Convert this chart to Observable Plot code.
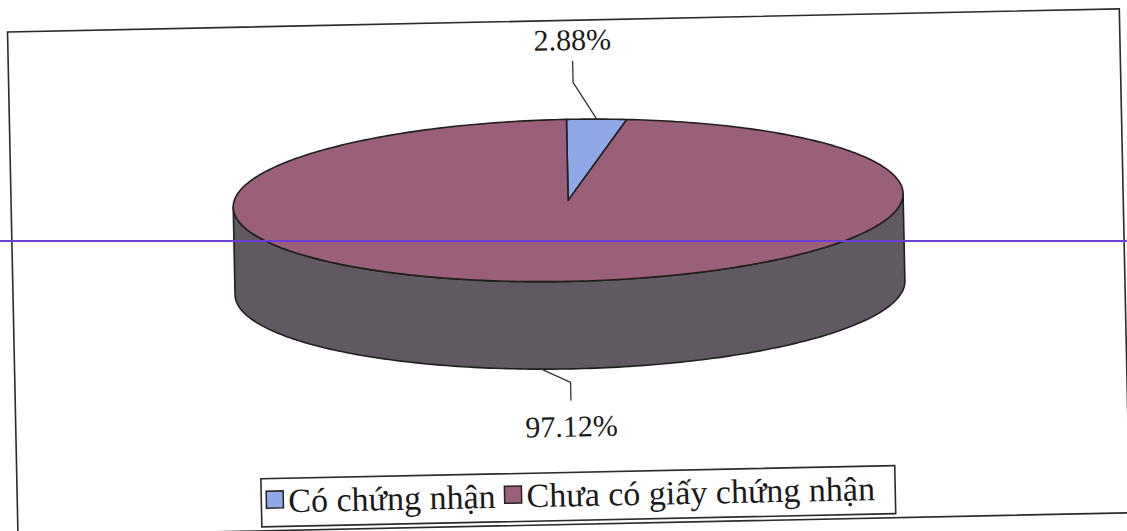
<!DOCTYPE html>
<html lang="vi">
<head>
<meta charset="utf-8">
<script src="https://cdn.jsdelivr.net/npm/d3@7"></script>
<script src="https://cdn.jsdelivr.net/npm/@observablehq/plot@0.6"></script>
<style>
  html, body { margin: 0; padding: 0; background: #fff; overflow: hidden; }
  #page { position: relative; width: 1127px; height: 531px; overflow: hidden; }
  #sheet {
    position: absolute; left: 0; top: 0; width: 1127px; height: 531px;
    transform: rotate(-1.19deg); transform-origin: 563.5px 265.5px;
  }
  #marker {
    position: absolute; left: 0; top: 239.5px; width: 1127px; height: 2px;
    background: #6c3fd2;
  }
</style>
</head>
<body>
<div id="page">
  <div id="sheet"></div>
  <div id="marker"></div>
</div>
<script>
// Share of households by land-use certificate status
const categories = ["Có chứng nhận", "Chưa có giấy chứng nhận"];
const shares = [2.88, 97.12];
const shareLabels = ["2.88%", "97.12%"];

// Styling
const palette = ["#8fa8e8", "#9b6079"];
const sideColor = "#615962";
const edge = "#1f1f1f";
const DEPTH = 1.08;            // disc thickness, in units of the vertical radius
const FONT = "'Liberation Serif', 'Times New Roman', serif";
const KEY_FONT_SIZE = 34;

// Page layout (pixels)
const W = 1127, H = 531;
const M = {left: 12, top: 20, right: 3, bottom: 7};
const keyBox = {left: 256, right: 890, top: 472, bottom: 520};

// Slice angles, clockwise from 12 o'clock
const total = d3.sum(shares);
let acc = 0;
const slices = shares.map((v, i) => {
  const a0 = (acc / total) * 2 * Math.PI;
  acc += v;
  const a1 = (acc / total) * 2 * Math.PI;
  return {i, category: categories[i], value: v, label: shareLabels[i], a0, a1, mid: (a0 + a1) / 2};
});

// Point on the rim of the disc: z = 0 top face, z = 1 bottom edge
const rim = (a, z = 0) => ({x: Math.sin(a), y: -Math.cos(a) + z * DEPTH});
function arc(a0, a1, z) {
  const n = Math.max(2, Math.ceil(Math.abs(a1 - a0) / (Math.PI / 180)));
  return d3.range(n + 1).map(k => rim(a0 + (a1 - a0) * k / n, z));
}

// Front wall of the disc (visible between 3 o'clock and 9 o'clock)
const sides = slices.map(s => {
  const lo = Math.max(s.a0, Math.PI / 2), hi = Math.min(s.a1, 3 * Math.PI / 2);
  if (hi <= lo) return null;
  const pts = [...arc(lo, hi, 0), ...arc(hi, lo, 1)];
  pts.push(pts[0]);
  return pts;
}).filter(Boolean);

// Top faces
const tops = slices.map(s => ({s, pts: [{x: 0, y: 0}, ...arc(s.a0, s.a1, 0), {x: 0, y: 0}]}));

// Label placement: back slices label above the disc, front slices below it
const labelAt = slices.map(s => {
  const front = Math.cos(s.mid) < 0;
  const start = rim(s.mid, front ? 1 : 0);
  const lx = front ? -0.004 : 0.022;
  const elbowY = front ? start.y + 0.17 : start.y - 0.46;
  const endY = front ? start.y + 0.39 : start.y - 0.72;
  const textY = front ? start.y + 0.84 : start.y - 0.86;
  return {
    label: s.label,
    leader: [start, {x: lx, y: elbowY}, {x: lx, y: endY}],
    x: lx, y: textY
  };
});

// Legend entries laid out left to right, widths measured in the legend font
const ctx = document.createElement("canvas").getContext("2d");
ctx.font = `${KEY_FONT_SIZE}px ${FONT}`;
const CHIP = 17, CHIP_GAP = 5, ITEM_GAP = 9;
const chipCenterY = 493, keyBaseline = 506;
let cursor = 261;
const keyItems = categories.map((c, i) => {
  const chipX = cursor + CHIP / 2;
  const textX = cursor + CHIP + CHIP_GAP;
  cursor = textX + ctx.measureText(c).width + ITEM_GAP;
  return {c, i, chipX, textX};
});
// offsets from the bottom-left corner of the frame
const ox = px => px - M.left;
const oy = py => py - (H - M.bottom);

const marks = [
  Plot.frame({stroke: "#2a2a2a", strokeWidth: 1.6}),
  ...sides.map(pts => Plot.line(pts, {x: "x", y: "y", fill: sideColor, stroke: edge, strokeWidth: 1.6})),
  ...tops.map(t => Plot.line(t.pts, {x: "x", y: "y", fill: palette[t.s.i], stroke: edge, strokeWidth: 1.6, strokeLinejoin: "round"})),
  ...labelAt.map(l => Plot.line(l.leader, {x: "x", y: "y", stroke: "#333", strokeWidth: 1.3})),
  Plot.text(labelAt, {
    x: "x", y: "y", text: "label", textAnchor: "middle", lineAnchor: "bottom",
    fontSize: 30, fontFamily: FONT, fill: "#1a1a1a"
  }),
  // legend box
  Plot.frame({
    fill: "white", stroke: "#2a2a2a", strokeWidth: 1.6,
    insetLeft: keyBox.left - M.left, insetRight: (W - M.right) - keyBox.right,
    insetTop: keyBox.top - M.top, insetBottom: (H - M.bottom) - keyBox.bottom
  }),
  ...keyItems.map(k => Plot.dot([k.c], {
    frameAnchor: "bottom-left", dx: ox(k.chipX), dy: oy(chipCenterY),
    symbol: "square", r: CHIP / Math.sqrt(Math.PI),
    fill: palette[k.i], stroke: "#222", strokeWidth: 1.5
  })),
  ...keyItems.map(k => Plot.text([k.c], {
    text: d => d, frameAnchor: "bottom-left", dx: ox(k.textX), dy: oy(keyBaseline),
    textAnchor: "start", lineAnchor: "bottom",
    fontSize: KEY_FONT_SIZE, fontFamily: FONT, fill: "#1a1a1a"
  }))
];

const chart = Plot.plot({
  width: W,
  height: H,
  marginLeft: M.left,
  marginTop: M.top,
  marginRight: M.right,
  marginBottom: M.bottom,
  x: {domain: [-1, 1], range: [234, 904], axis: null},
  y: {domain: [-1, 1], range: [119, 281], axis: null},
  style: {background: "transparent", overflow: "visible"},
  marks
});
document.getElementById("sheet").append(chart);
</script>
</body>
</html>
